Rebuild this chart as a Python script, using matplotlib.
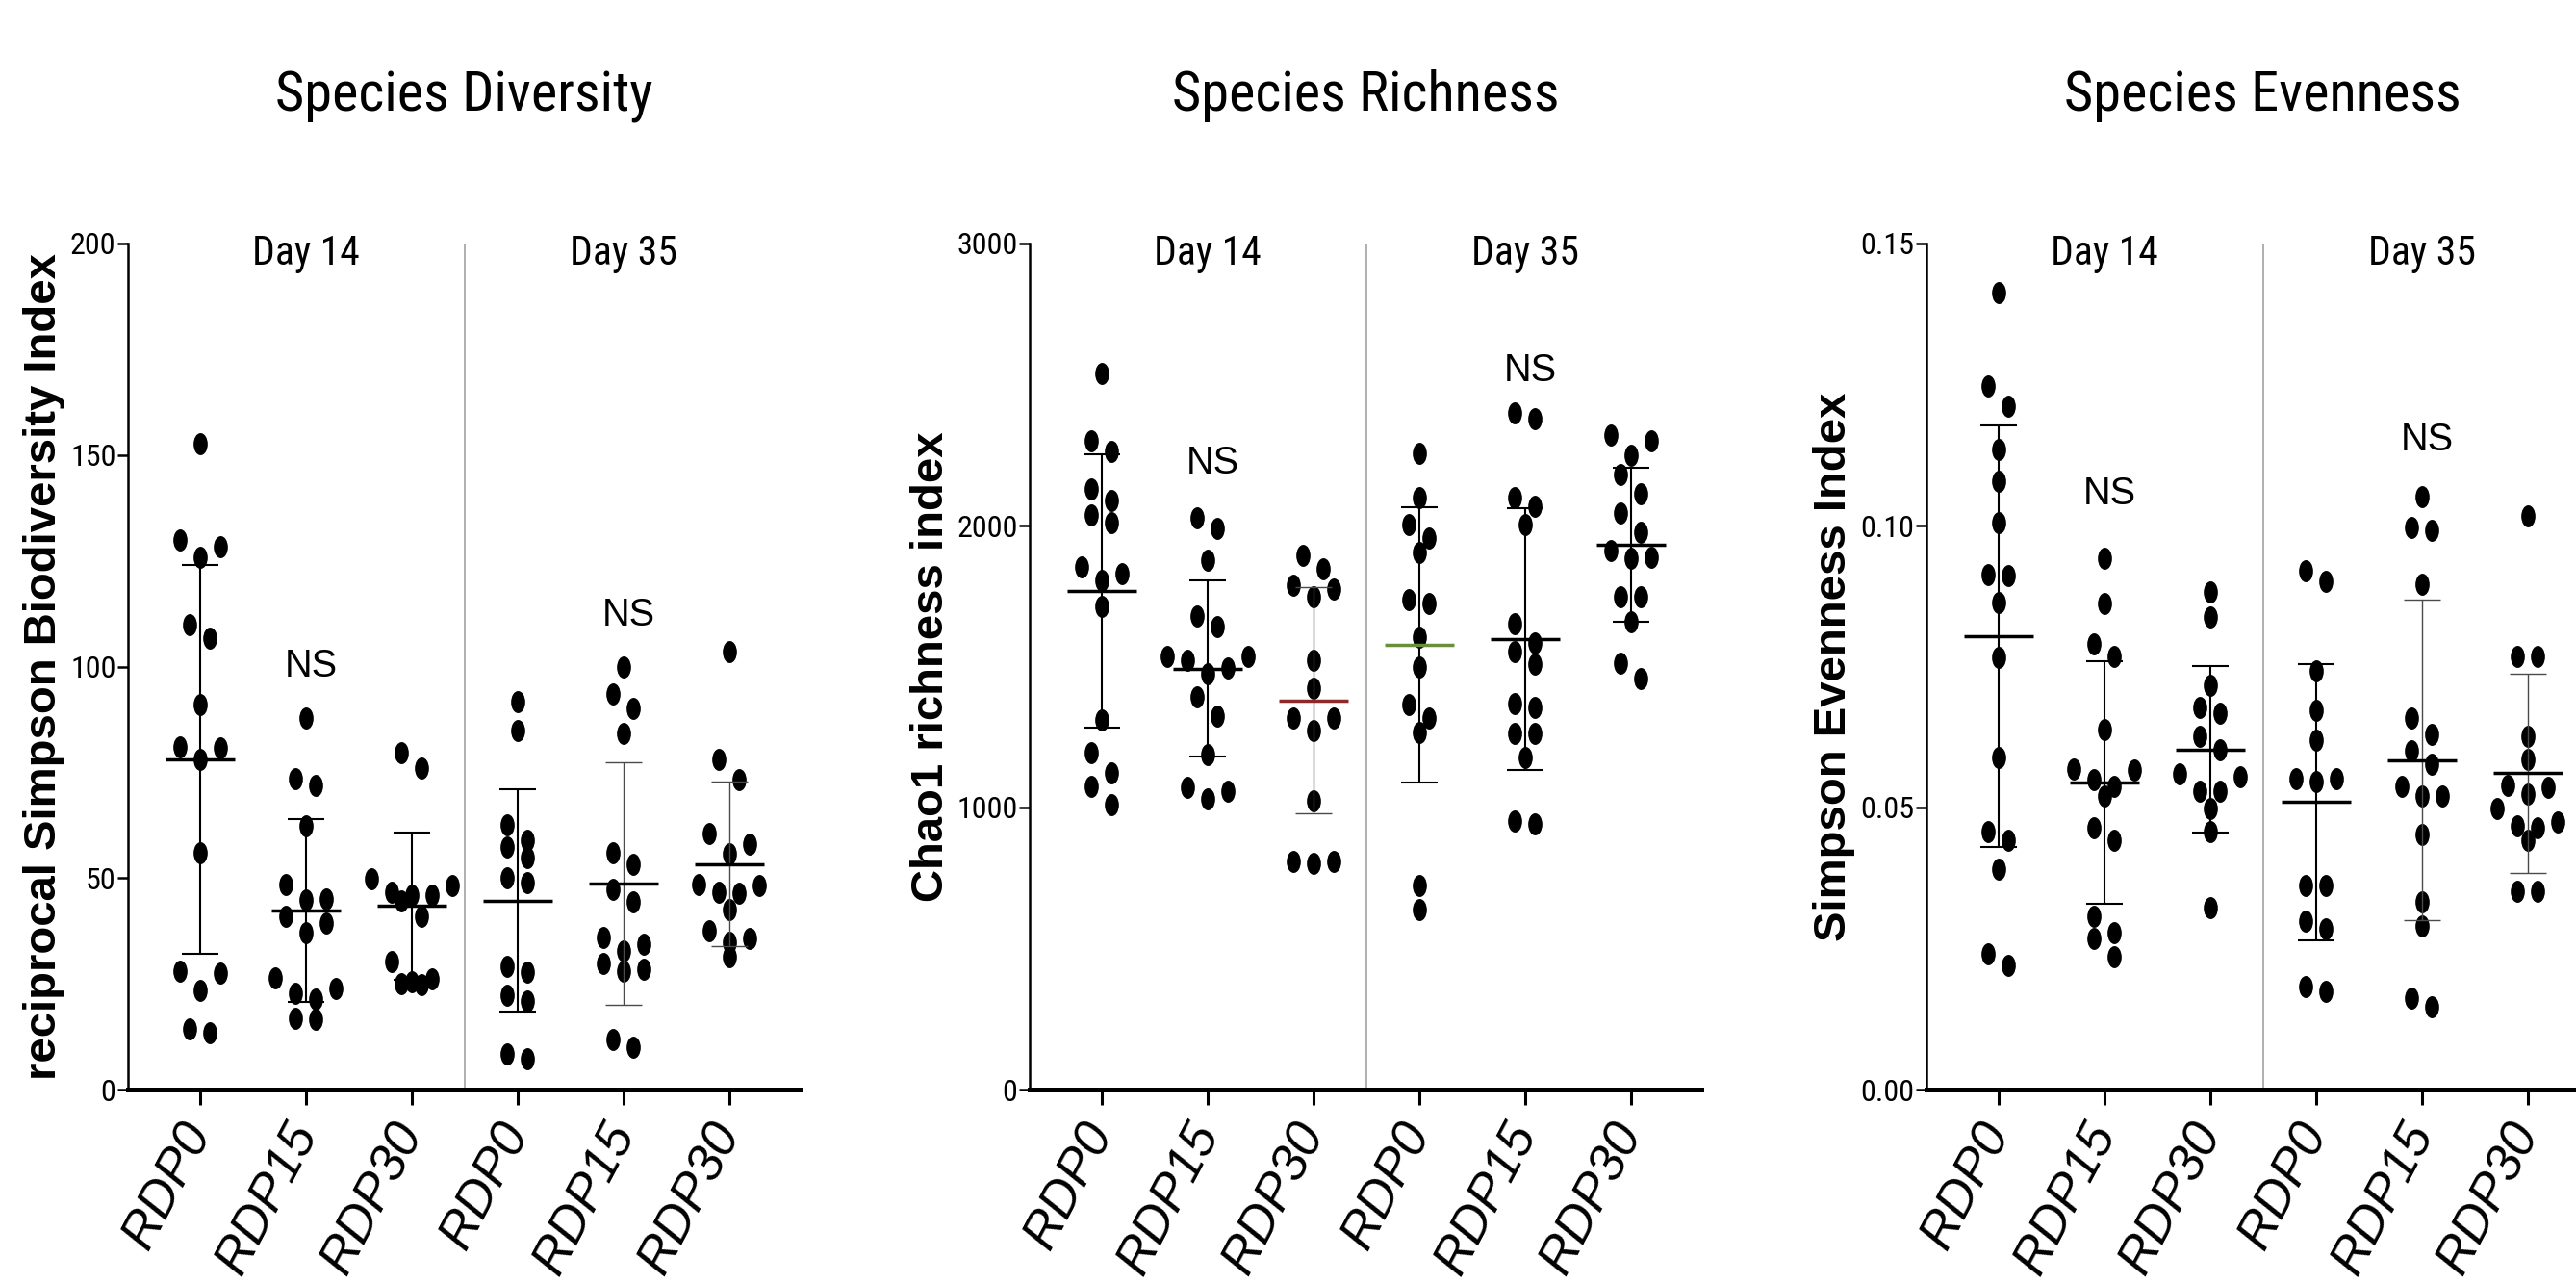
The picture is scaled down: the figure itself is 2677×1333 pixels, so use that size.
import numpy as np
import matplotlib
matplotlib.use("Agg")
import matplotlib.pyplot as plt
from matplotlib import font_manager
from matplotlib.path import Path
from matplotlib.transforms import Affine2D, blended_transform_factory


# ---- data ----
groups = ["RDP0", "RDP15", "RDP30", "RDP0", "RDP15", "RDP30"]
days = ["Day 14", "Day 35"]
titles = ["Species Diversity", "Species Richness", "Species Evenness"]
ylabels = ["reciprocal Simpson Biodiversity Index", "Chao1 richness index", "Simpson Evenness Index"]

# reciprocal Simpson, one list per group (Day 14 RDP0..RDP30, Day 35 RDP0..RDP30)
diversity = [
    [152.6, 129.9, 128.3, 125.9, 109.9, 106.7, 91.1, 81.0, 80.8, 78.0, 55.9, 28.1, 27.6, 23.4, 14.3, 13.5],
    [87.9, 73.5, 71.8, 62.3, 48.5, 45.0, 44.8, 41.0, 39.4, 37.2, 26.3, 23.9, 22.8, 21.5, 16.9, 16.7],
    [79.7, 76.0, 49.8, 48.2, 46.6, 46.0, 46.0, 44.7, 40.9, 30.3, 26.1, 25.4, 25.0, 24.7],
    [91.8, 84.8, 62.6, 58.9, 57.3, 54.9, 50.1, 49.0, 29.2, 27.7, 22.3, 20.9, 8.4, 7.3],
    [100.0, 93.6, 90.2, 84.3, 55.9, 53.3, 47.4, 44.4, 35.9, 34.3, 32.7, 29.7, 28.4, 27.9, 11.9, 10.0],
    [103.5, 78.0, 73.3, 60.5, 58.0, 55.7, 48.4, 48.2, 46.6, 46.4, 42.6, 37.5, 35.7, 34.8, 31.4],
]
diversity_mean = [78.0, 42.3, 43.4, 44.7, 48.7, 53.3]
diversity_sd = [46.0, 21.7, 17.4, 26.3, 28.7, 19.4]

# Chao1 richness
richness = [
    [2540, 2301, 2262, 2129, 2088, 2039, 2009, 1853, 1830, 1806, 1712, 1309, 1194, 1122, 1076, 1011],
    [2026, 1990, 1876, 1679, 1640, 1535, 1535, 1522, 1495, 1476, 1393, 1325, 1187, 1070, 1059, 1030],
    [1893, 1845, 1788, 1775, 1748, 1522, 1423, 1318, 1318, 1273, 1024, 810, 810, 801],
    [2256, 2098, 2003, 1954, 1904, 1738, 1722, 1604, 1498, 1364, 1319, 1266, 722, 637],
    [2400, 2380, 2098, 2068, 2003, 1653, 1583, 1552, 1509, 1368, 1355, 1263, 1263, 1177, 952, 941],
    [2321, 2302, 2249, 2180, 2112, 2043, 1976, 1911, 1889, 1885, 1748, 1748, 1659, 1513, 1456],
]
richness_mean = [1767, 1492, 1380, 1577, 1598, 1932]
richness_sd = [485, 312, 400, 487, 465, 273]

# Simpson evenness
evenness = [
    [0.1413, 0.1248, 0.1211, 0.1135, 0.1078, 0.1005, 0.0913, 0.0911, 0.0864, 0.0767, 0.0589, 0.0457, 0.0442, 0.0391, 0.0240, 0.0220],
    [0.0942, 0.0861, 0.0790, 0.0768, 0.0638, 0.0568, 0.0566, 0.0550, 0.0537, 0.0520, 0.0464, 0.0442, 0.0307, 0.0278, 0.0268, 0.0235],
    [0.0883, 0.0838, 0.0716, 0.0678, 0.0668, 0.0626, 0.0603, 0.0559, 0.0555, 0.0529, 0.0529, 0.0498, 0.0457, 0.0323],
    [0.0920, 0.0901, 0.0742, 0.0673, 0.0620, 0.0551, 0.0551, 0.0546, 0.0362, 0.0362, 0.0299, 0.0285, 0.0183, 0.0174],
    [0.1052, 0.0996, 0.0991, 0.0896, 0.0659, 0.0630, 0.0600, 0.0576, 0.0537, 0.0520, 0.0520, 0.0452, 0.0333, 0.0290, 0.0162, 0.0146],
    [0.1017, 0.0768, 0.0768, 0.0626, 0.0585, 0.0540, 0.0535, 0.0524, 0.0499, 0.0475, 0.0468, 0.0464, 0.0442, 0.0351, 0.0351],
]
evenness_mean = [0.0804, 0.0544, 0.0603, 0.0510, 0.0584, 0.0561]
evenness_sd = [0.0374, 0.0215, 0.0148, 0.0245, 0.0284, 0.0177]

yticks = [[0, 50, 100, 150, 200], [0, 1000, 2000, 3000], [0.0, 0.05, 0.10, 0.15]]
ytick_fmt = ["{:.0f}", "{:.0f}", "{:.2f}"]
# "NS" marks: (group index, height)
ns_marks = [[(1, 97.6), (4, 109.6)], [(1, 2184), (4, 2511)], [(1, 0.1037), (4, 0.1133)]]


# ---- styling ----
names = {f.name for f in font_manager.fontManager.ttflist}
NARROW = next((n for n in ["Liberation Sans Narrow", "Arial Narrow", "Roboto Condensed",
                           "DejaVu Sans Condensed"] if n in names), "Liberation Sans")
SANS = "Liberation Sans"

mean_colors = [["k"] * 6, ["k", "k", "#8c2a2a", "#6a8f3a", "k", "k"], ["k"] * 6]
thin_bars = [[0, 0, 0, 0, 1, 1], [0, 0, 1, 0, 0, 0], [0, 0, 0, 0, 1, 1]]

W, H = 2677, 1333
fig = plt.figure(figsize=(W / 100, H / 100), dpi=100)

AX_TOP, AX_BOT, AX_W = 253, 1132, 698
ax_lefts = [133, 1070, 2002]
ylabel_x = [-0.125, -0.146, -0.1375]
XLIM = (-0.68, 5.665)

# elliptic dot, like the squeezed Prism symbols
dot = Path.unit_circle().transformed(Affine2D().scale(0.64, 1.0))


def swarm_offsets(vals, bin_h, step):
    vals = np.asarray(vals, dtype=float)
    order = np.argsort(vals)[::-1]
    bins = []
    for idx in order:
        if bins and bins[-1][0] - vals[idx] < bin_h:
            bins[-1][1].append(idx)
        else:
            bins.append((vals[idx], [idx]))
    offs = np.zeros(len(vals))
    for _, members in bins:
        n = len(members)
        ks = np.arange(n) - (n - 1) / 2
        seq = sorted(ks, key=lambda k: (-abs(k), k))
        for idx, k in zip(members, seq):
            offs[idx] = k * step
    return offs


panels = [
    (diversity, diversity_mean, diversity_sd),
    (richness, richness_mean, richness_sd),
    (evenness, evenness_mean, evenness_sd),
]

for p, (values, means, sds) in enumerate(panels):
    left = ax_lefts[p]
    ax = fig.add_axes([left / W, 1 - AX_BOT / H, AX_W / W, (AX_BOT - AX_TOP) / H])
    ymax = yticks[p][-1]
    ax.set_xlim(*XLIM)
    ax.set_ylim(0, ymax)

    px_y = (AX_BOT - AX_TOP) / ymax
    px_x = AX_W / (XLIM[1] - XLIM[0])

    for i, vals in enumerate(values):
        offs = swarm_offsets(vals, 22 / px_y, 21 / px_x)
        ax.plot(i + offs, vals, linestyle="none", marker=dot, markersize=16.5,
                markeredgewidth=0, color="black", zorder=2, clip_on=False)

        m, s = means[i], sds[i]
        bar_c = "#4a4a4a" if thin_bars[p][i] else "black"
        bar_w = 1.0 if thin_bars[p][i] else 1.5
        ax.vlines(i, m - s, m + s, color=bar_c, lw=bar_w, zorder=3)
        ax.hlines([m - s, m + s], i - 0.17, i + 0.17, color=bar_c, lw=bar_w, zorder=3)
        ax.hlines(m, i - 0.33, i + 0.33, color=mean_colors[p][i], lw=2.5, zorder=4)

    ax.axvline(2.5, color="#9a9a9a", lw=1.1, zorder=1)

    for sp in ["top", "right"]:
        ax.spines[sp].set_visible(False)
    ax.spines["left"].set_linewidth(1.8)
    ax.spines["bottom"].set_linewidth(3.6)

    ax.set_yticks(yticks[p])
    ax.set_yticklabels([ytick_fmt[p].format(t) for t in yticks[p]],
                       fontfamily=NARROW, fontsize=23)
    ax.tick_params(axis="y", direction="out", length=8, width=1.8, pad=1)

    ax.set_xticks(range(len(groups)))
    ax.set_xticklabels(groups, rotation=62, ha="right", va="center",
                       rotation_mode="anchor", fontfamily=SANS, style="italic",
                       fontsize=38)
    ax.tick_params(axis="x", direction="out", length=11.5, width=2.2, pad=16)

    ax.text(ylabel_x[p], 0.5, ylabels[p], transform=ax.transAxes, rotation=90,
            ha="center", va="center", fontfamily=SANS, fontweight="bold", fontsize=34)

    tr = blended_transform_factory(ax.transData, ax.transAxes)
    for d, day in enumerate(days):
        ax.text(1 + 3 * d, 1 - 22 / (AX_BOT - AX_TOP), day, transform=tr,
                ha="center", va="baseline", fontfamily=NARROW, fontsize=30)

    for gi, yv in ns_marks[p]:
        ax.text(gi + 0.05, yv, "NS", ha="center", va="baseline",
                fontfamily=SANS, fontsize=28.5)

    fig.text((left + AX_W / 2) / W, 1 - 115 / H, titles[p], ha="center",
             va="baseline", fontfamily=NARROW, fontsize=42)

fig.savefig("out.png", dpi=100)
